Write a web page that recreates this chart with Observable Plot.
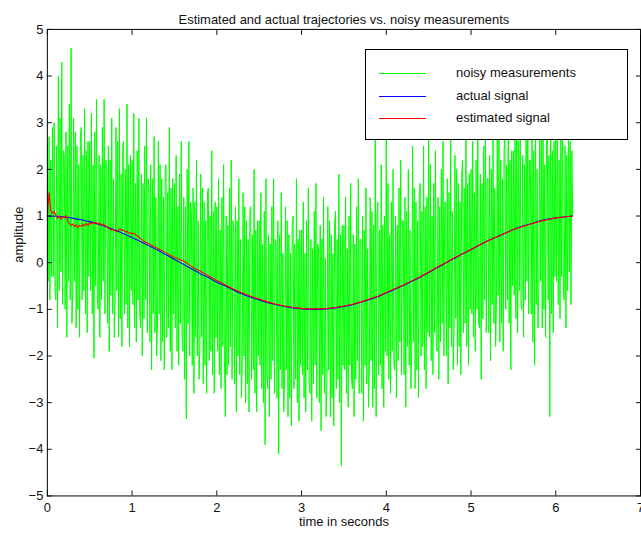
<!DOCTYPE html>
<html>
<head>
<meta charset="utf-8">
<script src="https://cdn.jsdelivr.net/npm/d3@7"></script>
<script src="https://cdn.jsdelivr.net/npm/@observablehq/plot@0.6"></script>
<style>
  html, body { margin: 0; padding: 0; background: #fff; overflow: hidden; }
  #wrap { position: relative; width: 641px; height: 536px; overflow: hidden; }
  #legend { position: absolute; left: 365px; top: 49px; width: 261px; height: 89px;
            border: 1px solid #000; background: #fff; font-family: "Liberation Sans", Arial, sans-serif; font-size: 13px; color: #111; }
  .sw { position: absolute; left: 13px; width: 47px; height: 1px; }
  .lb { position: absolute; left: 90px; white-space: nowrap; line-height: 15px; }
</style>
</head>
<body>
<div id="wrap"><div id="chart"></div><div id="legend"></div></div>
<script>
// ---- data ----
const titleText = "Estimated and actual trajectories vs. noisy measurements";
const xLabel = "time in seconds";
const yLabel = "amplitude";
const seriesNames = ["noisy measurements", "actual signal", "estimated signal"];
const seriesColors = ["#00ff00", "#0000ff", "#ff0000"];
const xTicks = [0, 1, 2, 3, 4, 5, 6, 7];
const yTicks = [-5, -4, -3, -2, -1, 0, 1, 2, 3, 4, 5];

// noisy measurements, sampled every 0.01 s from t = 0
const measStep = 0.01;
const measured = [
  2.5, -0.4, 2.7, -0.8, 2.2, -0.3, 2.9, -0.3, 3.0, -0.6,
  -0.8, 2.5, -1.4, 4.0, -0.6, 3.1, -0.2, 4.3, -0.9, 2.4,
  2.3, -1.0, 2.8, -1.6, 2.5, -0.4, 3.4, -0.8, 4.6, -1.3,
  -0.6, 3.1, -0.4, 2.8, -1.4, 2.5, -1.0, 2.1, -1.6, 2.7,
  2.9, -0.8, 2.3, -0.6, 3.3, -1.1, 2.4, -1.5, 2.6, -0.3,
  2.6, -0.6, 3.2, -1.1, 2.1, -2.05, 2.8, -0.5, 3.5, -0.8,
  -1.0, 2.3, -1.6, 2.1, -0.8, 2.9, -0.4, 3.5, -1.1, 2.2,
  2.0, -1.3, 2.5, -1.9, 2.2, -0.7, 3.1, -1.1, 1.8, -1.6,
  -0.8, 2.9, -0.6, 2.6, -1.6, 3.3, -1.2, 1.9, -1.8, 2.5,
  2.6, -1.1, 2.0, -0.9, 3.4, -1.4, 2.1, -1.8, 2.3, -0.6,
  2.2, -0.9, 3.2, -1.4, 1.7, -1.7, 2.4, -0.8, 3.1, -1.1,
  -1.4, 1.9, -2.0, 1.7, -1.2, 2.5, -0.8, 3.1, -1.5, 1.8,
  1.6, -1.7, 2.1, -2.3, 1.8, -1.1, 2.7, -1.5, 1.4, -2.0,
  -1.3, 2.6, -1.1, 2.1, -2.1, 1.8, -1.7, 1.4, -2.3, 2.0,
  2.1, -1.6, 1.5, -1.4, 2.9, -1.9, 1.6, -2.3, 1.8, -1.1,
  1.7, -1.4, 2.3, -1.9, 1.2, -2.2, 1.9, -1.3, 2.6, -1.6,
  -1.9, 1.4, -2.5, 1.2, -3.35, 2.0, -1.3, 2.6, -2.0, 1.3,
  1.1, -2.2, 1.6, -2.8, 1.3, -1.6, 2.2, -2.0, 0.9, -2.5,
  -1.8, 1.9, -1.6, 1.6, -2.6, 1.3, -2.2, 0.9, -2.8, 1.5,
  1.6, -2.1, 1.0, -1.9, 2.4, -2.4, 1.1, -2.8, 1.3, -1.6,
  1.2, -1.9, 1.8, -2.4, 0.7, -2.7, 1.4, -1.8, 2.1, -2.1,
  -3.3, 1.0, -2.4, 0.8, -2.2, 1.6, -1.8, 2.2, -2.5, 0.9,
  0.7, -2.6, 1.2, -3.2, 0.9, -2.0, 1.8, -2.4, 0.5, -2.9,
  -2.2, 1.5, -2.0, 1.2, -3.0, 0.9, -2.6, 0.5, -3.2, 1.1,
  1.2, -2.5, 0.6, -2.3, 2.0, -2.8, 0.7, -3.2, 0.9, -2.0,
  0.9, -2.2, 1.5, -2.7, 0.4, -3.0, 1.1, -3.9, 1.8, -2.4,
  -2.7, 0.6, -3.3, 0.4, -2.5, 1.2, -2.1, 1.8, -2.8, 0.5,
  0.4, -2.9, 0.9, -4.1, 0.6, -2.3, 1.5, -2.7, 0.2, -3.2,
  -2.5, 1.2, -2.3, 0.9, -3.3, 0.6, -2.9, 0.2, -3.5, 0.8,
  1.0, -2.7, 0.4, -2.5, 1.8, -3.0, 0.5, -3.4, 0.7, -2.2,
  0.7, -2.4, 1.3, -2.9, 0.2, -3.2, 0.9, -2.3, 1.6, -2.6,
  -2.8, 0.5, -3.4, 0.3, -2.6, 1.1, -2.2, 1.7, -2.9, 0.4,
  0.3, -3.0, 0.8, -3.6, 0.5, -2.4, 1.4, -2.8, 0.1, -3.3,
  -2.5, 1.2, -2.3, 0.9, -3.3, 0.6, -2.9, 0.2, -3.5, 0.8,
  1.1, -2.7, 0.5, -2.5, 1.9, -3.0, 0.6, -4.36, 0.8, -2.2,
  0.8, -2.3, 1.4, -2.8, 0.3, -3.1, 1.0, -2.2, 1.7, -2.5,
  -2.7, 0.6, -3.3, 0.4, -2.5, 1.2, -2.1, 1.8, -2.8, 0.5,
  0.5, -2.8, 1.0, -3.4, 0.7, -2.2, 1.6, -2.6, 0.3, -3.1,
  -2.3, 1.4, -2.1, 1.1, -3.1, 0.8, -2.7, 2.67, -3.3, 1.0,
  1.3, -2.4, 0.7, -2.2, 2.1, -2.7, 0.8, -3.1, 1.0, -1.9,
  2.7, -2.0, 1.7, -2.5, 0.6, -2.8, 1.3, -1.9, 2.0, -2.2,
  -2.3, 1.0, -2.9, 0.8, -2.1, 1.6, -1.7, 2.2, -2.4, 0.9,
  0.9, -2.4, 1.4, -3.1, 1.1, -1.8, 2.0, -2.2, 0.7, -2.7,
  -1.9, 2.5, -1.7, 1.6, -2.7, 1.3, -2.3, 0.9, -2.9, 1.5,
  1.7, -2.0, 1.1, -1.8, 2.5, -2.3, 1.2, -2.7, 1.4, -1.5,
  2.8, -1.6, 2.1, -2.1, 1.0, -2.4, 1.7, -1.5, 2.4, -1.8,
  -1.9, 1.4, -2.5, 1.2, -1.7, 2.0, -1.3, 2.6, -2.0, 1.3,
  1.3, -2.0, 1.8, -2.6, 1.5, -1.4, 2.9, -1.8, 1.1, -2.3,
  -1.4, 2.3, -1.2, 2.0, -2.2, 1.7, -1.8, 1.3, -2.4, 1.9,
  2.2, -1.5, 1.6, -1.3, 3.0, -1.8, 1.7, -2.2, 1.9, -1.0,
  2.0, -1.1, 2.6, -1.6, 1.5, -1.9, 2.2, -1.0, 2.9, -1.3,
  -1.4, 1.9, -2.5, 1.7, -1.2, 2.5, -0.8, 3.1, -1.5, 1.8,
  1.8, -1.5, 2.3, -2.1, 2.0, -0.9, 2.9, -1.3, 1.6, -1.8,
  -0.9, 2.8, -0.7, 3.2, -1.7, 2.2, -1.3, 1.8, -1.9, 2.4,
  2.7, -1.0, 2.1, -0.8, 3.5, -1.3, 2.2, -2.3, 2.4, -0.5,
  2.4, -0.7, 3.0, -1.2, 3.6, -1.5, 2.6, -0.6, 3.4, -0.9,
  -1.0, 2.3, -1.6, 2.1, -0.8, 2.9, -0.4, 3.5, -1.1, 2.2,
  2.2, -1.1, 2.7, -1.7, 2.4, -2.2, 3.3, -0.9, 2.0, -1.4,
  -0.6, 3.1, -0.4, 2.8, -1.4, 3.5, -1.0, 2.1, -1.6, 2.7,
  2.9, -0.8, 2.3, -3.3, 3.7, -1.1, 2.4, -1.5, 2.6, -0.3,
  2.7, -0.4, 3.3, -0.9, 2.2, -1.2, 2.9, -0.3, 3.6, -0.6,
  -0.8, 2.5, -1.4, 2.3, -0.6, 3.1, -0.2, 2.6, -0.9, 2.4,
  1.0
];

// actual signal, sampled every 0.1 s from t = 0
const actualStep = 0.1;
const actual = [
  1.00, 0.995, 0.98, 0.955, 0.92, 0.88, 0.825, 0.765, 0.70, 0.62,
  0.54, 0.45, 0.36, 0.27, 0.17, 0.07, -0.03, -0.13, -0.23, -0.32,
  -0.42, -0.50, -0.59, -0.67, -0.74, -0.80, -0.86, -0.90, -0.94, -0.97,
  -0.99, -1.00, -1.00, -0.99, -0.97, -0.94, -0.90, -0.85, -0.79, -0.73,
  -0.65, -0.57, -0.49, -0.40, -0.31, -0.21, -0.11, -0.01, 0.09, 0.19,
  0.28, 0.38, 0.47, 0.55, 0.63, 0.71, 0.78, 0.83, 0.89, 0.93,
  0.96, 0.98, 1.00
];

// estimated signal: times and values
const estTimes = [
  0, 0.02, 0.04, 0.06, 0.08, 0.10, 0.12, 0.14, 0.16, 0.18,
  0.20, 0.22, 0.24, 0.26, 0.28, 0.30, 0.32, 0.34, 0.36, 0.38,
  0.40, 0.42, 0.44, 0.46, 0.48, 0.50, 0.52, 0.54, 0.56, 0.58,
  0.60, 0.62, 0.64, 0.66, 0.68, 0.70, 0.72, 0.74, 0.76, 0.78,
  0.80, 0.82, 0.84, 0.86, 0.88, 0.90, 0.92, 0.94, 0.96, 0.98,
  1.00, 1.02, 1.04, 1.06, 1.08, 1.10, 1.12, 1.14, 1.16, 1.18, 1.20,
  1.3, 1.4, 1.5, 1.6, 1.7, 1.8, 1.9, 2.0, 2.1, 2.2, 2.3, 2.4, 2.5,
  2.6, 2.7, 2.8, 2.9, 3.0, 3.1, 3.2, 3.3, 3.4, 3.5, 3.6, 3.7, 3.8,
  3.9, 4.0, 4.1, 4.2, 4.3, 4.4, 4.5, 4.6, 4.7, 4.8, 4.9, 5.0, 5.1,
  5.2, 5.3, 5.4, 5.5, 5.6, 5.7, 5.8, 5.9, 6.0, 6.1, 6.2
];
const estValues = [
  1.0, 1.5, 1.12, 1.05, 1.1, 1.02, 0.95, 1.0, 0.93, 0.98,
  0.96, 1.01, 0.9, 0.84, 0.8, 0.83, 0.77, 0.81, 0.75, 0.8,
  0.78, 0.82, 0.79, 0.84, 0.8, 0.86, 0.83, 0.87, 0.84, 0.86,
  0.82, 0.85, 0.8, 0.83, 0.79, 0.78, 0.74, 0.72, 0.70, 0.71,
  0.68, 0.67, 0.70, 0.72, 0.69, 0.70, 0.66, 0.67, 0.63, 0.64,
  0.62, 0.63, 0.60, 0.58, 0.55, 0.51, 0.49, 0.46, 0.44, 0.42, 0.40,
  0.31, 0.21, 0.11, 0.04, -0.08, -0.18, -0.28, -0.38, -0.48, -0.57, -0.65, -0.72, -0.78,
  -0.84, -0.89, -0.93, -0.96, -0.98, -0.99, -0.99, -0.98, -0.96, -0.93, -0.89, -0.84, -0.78,
  -0.72, -0.64, -0.56, -0.48, -0.39, -0.30, -0.20, -0.10, 0.00, 0.10, 0.19, 0.29, 0.38,
  0.47, 0.55, 0.63, 0.71, 0.77, 0.83, 0.88, 0.92, 0.96, 0.98, 1.00
];

// ---- tables ----
const measTable = measured.map((v, i) => ({t: i * measStep, v}));
const actualTable = actual.map((v, i) => ({t: i * actualStep, v}));
const estTable = estValues.map((v, i) => ({t: estTimes[i], v}));

const font = "'Liberation Sans', Arial, Helvetica, sans-serif";
const fmt = d3.format("d");

const chart = Plot.plot({
  width: 643,
  height: 536,
  marginLeft: 47,
  marginRight: 1,
  marginTop: 29,
  marginBottom: 39,
  style: {fontFamily: font, fontSize: "13px", color: "#111", background: "#fff", overflow: "visible"},
  x: {domain: [0, 7], ticks: xTicks, label: null},
  y: {domain: [-5, 5], ticks: yTicks, label: null},
  marks: [
    Plot.line(measTable, {x: "t", y: "v", stroke: seriesColors[0], strokeWidth: 1, shapeRendering: "crispEdges", clip: true}),
    Plot.line(actualTable, {x: "t", y: "v", stroke: seriesColors[1], strokeWidth: 1.1, curve: "catmull-rom", clip: true}),
    Plot.line(estTable, {x: "t", y: "v", stroke: seriesColors[2], strokeWidth: 1.1, clip: true}),
    Plot.frame({stroke: "#000", strokeWidth: 1}),
    Plot.axisX({anchor: "bottom", ticks: xTicks, tickSize: -5, tickPadding: 12, tickFormat: fmt, label: null, fontSize: 13}),
    Plot.axisX({anchor: "top", ticks: xTicks, tickSize: -5, tickFormat: () => "", label: null}),
    Plot.axisY({anchor: "left", ticks: yTicks, tickSize: -5, tickPadding: 9, tickFormat: fmt, label: null, fontSize: 13}),
    Plot.axisY({anchor: "right", ticks: yTicks, tickSize: -5, tickFormat: () => "", label: null}),
    Plot.text([titleText], {frameAnchor: "top", dy: -15, fontSize: 13, fill: "#111"}),
    Plot.text([xLabel], {frameAnchor: "bottom", dy: 30, fontSize: 13, fill: "#111"}),
    Plot.text([yLabel], {frameAnchor: "left", dx: -29, rotate: -90, fontSize: 13, fill: "#111"})
  ]
});
document.getElementById("chart").appendChild(chart);

// legend
const legend = document.getElementById("legend");
const rowCenters = [23, 46, 68];
seriesNames.forEach((name, i) => {
  const sw = document.createElement("div");
  sw.className = "sw";
  sw.style.top = rowCenters[i] + "px";
  sw.style.background = seriesColors[i];
  const lb = document.createElement("div");
  lb.className = "lb";
  lb.style.top = (rowCenters[i] - 8) + "px";
  lb.textContent = name;
  legend.appendChild(sw);
  legend.appendChild(lb);
});
</script>
</body>
</html>
